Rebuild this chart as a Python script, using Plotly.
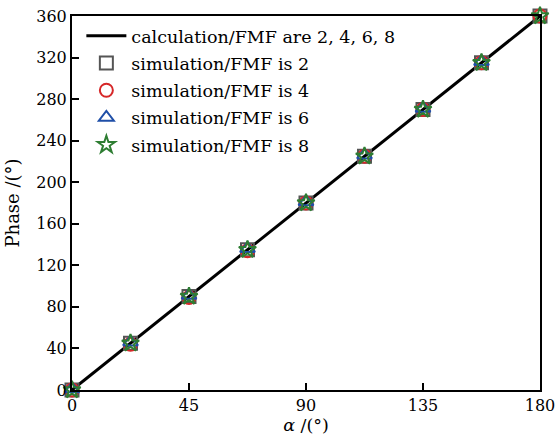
import plotly.graph_objects as go

# rotation angle alpha (degrees) and resulting phase (degrees)
alpha = [0, 22.5, 45, 67.5, 90, 112.5, 135, 157.5, 180]
phase_calc = [0, 45, 90, 135, 180, 225, 270, 315, 360]
phase_fmf2 = [0, 45, 90, 135, 180, 225, 270, 315, 360]
phase_fmf4 = [0, 44, 89, 134, 180, 225, 270, 315, 360]
phase_fmf6 = [1, 46, 91, 136, 181, 226, 271, 316, 361]
phase_fmf8 = [0, 45, 90, 135, 180, 225, 270, 315, 360]

xticks = [0, 45, 90, 135, 180]
yticks = [0, 40, 80, 120, 160, 200, 240, 280, 320, 360]

FONT = "DejaVu Serif"

fig = go.Figure()
fig.add_trace(go.Scatter(x=alpha, y=phase_calc, mode="lines",
                         line=dict(color="black", width=3),
                         legendgroup="calc",
                         name="calculation/FMF are 2, 4, 6, 8"))
series = [
    (phase_fmf2, "square-open", "#555555", "simulation/FMF is 2"),
    (phase_fmf4, "circle-open", "#d62728", "simulation/FMF is 4"),
    (phase_fmf6, "triangle-up-open", "#1f4fa8", "simulation/FMF is 6"),
    (phase_fmf8, "star-open", "#2e7d32", "simulation/FMF is 8"),
]
for ys, sym, col, name in series:
    fig.add_trace(go.Scatter(x=alpha, y=ys, mode="markers", name=name,
                             legendgroup=name, cliponaxis=False,
                             marker=dict(symbol=sym, size=13, color=col,
                                         line=dict(width=2, color=col))))

axis_common = dict(showline=True, linecolor="black", linewidth=2, mirror=True,
                   ticks="inside", ticklen=7, tickwidth=1.5, tickcolor="black",
                   showgrid=False, zeroline=False, automargin=False,
                   tickfont=dict(family=FONT, size=16, color="black"))

fig.update_xaxes(range=[0, 180], tickvals=xticks, **axis_common,
                 title=dict(text="<i>α</i> /(°)", standoff=0,
                            font=dict(family=FONT, size=17.5, color="black")))
fig.update_yaxes(range=[0, 360], tickvals=yticks, **axis_common,
                 title=dict(text="Phase /(°)", standoff=12,
                            font=dict(family=FONT, size=18, color="black")))

fig.update_layout(
    width=556, height=439,
    margin=dict(l=72, r=16, t=16, b=49),
    plot_bgcolor="white", paper_bgcolor="white",
    showlegend=True,
    legend=dict(x=0.02, y=0.995, xanchor="left", yanchor="top",
                bgcolor="rgba(0,0,0,0)", tracegroupgap=1.5,
                traceorder="grouped",
                font=dict(family=FONT, size=17.5, color="black"),
                itemwidth=40),
)

fig.write_html("out.html")
